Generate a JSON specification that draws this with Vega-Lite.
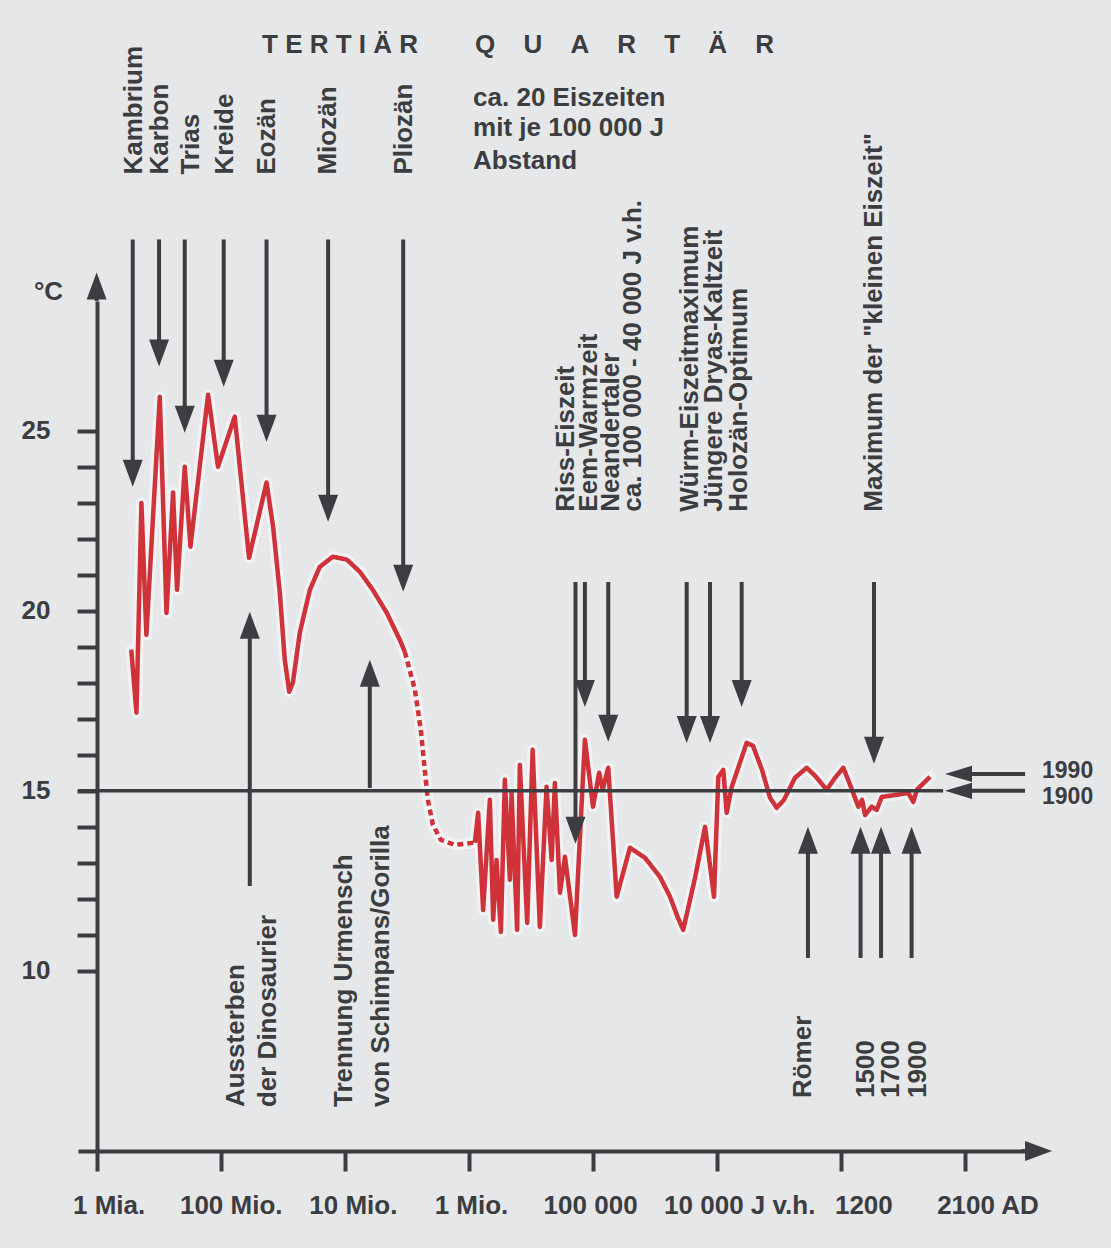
{
  "$schema": "https://vega.github.io/schema/vega-lite/v6.json",
  "width": 952,
  "height": 850,
  "autosize": {"type": "none"},
  "padding": {"left": 78, "top": 301, "right": 81, "bottom": 97},
  "background": "#e6e7e9",
  "config": {"view": {"stroke": null}, "font": "Liberation Sans"},
  "datasets": {
    "curve": [
      {"i": 0, "t": 0.279, "v": 18.92, "seg": "a", "style": "solid"},
      {"i": 1, "t": 0.321, "v": 17.17, "seg": "a", "style": "solid"},
      {"i": 2, "t": 0.361, "v": 22.99, "seg": "a", "style": "solid"},
      {"i": 3, "t": 0.401, "v": 19.33, "seg": "a", "style": "solid"},
      {"i": 4, "t": 0.509, "v": 25.94, "seg": "a", "style": "solid"},
      {"i": 5, "t": 0.563, "v": 19.94, "seg": "a", "style": "solid"},
      {"i": 6, "t": 0.616, "v": 23.28, "seg": "a", "style": "solid"},
      {"i": 7, "t": 0.648, "v": 20.58, "seg": "a", "style": "solid"},
      {"i": 8, "t": 0.710, "v": 24.0, "seg": "a", "style": "solid"},
      {"i": 9, "t": 0.756, "v": 21.78, "seg": "a", "style": "solid"},
      {"i": 10, "t": 0.898, "v": 26.0, "seg": "a", "style": "solid"},
      {"i": 11, "t": 0.978, "v": 24.0, "seg": "a", "style": "solid"},
      {"i": 12, "t": 1.113, "v": 25.39, "seg": "a", "style": "solid"},
      {"i": 13, "t": 1.228, "v": 21.47, "seg": "a", "style": "solid"},
      {"i": 14, "t": 1.369, "v": 23.56, "seg": "a", "style": "solid"},
      {"i": 15, "t": 1.422, "v": 22.33, "seg": "a", "style": "solid"},
      {"i": 16, "t": 1.476, "v": 20.5, "seg": "a", "style": "solid"},
      {"i": 17, "t": 1.516, "v": 18.64, "seg": "a", "style": "solid"},
      {"i": 18, "t": 1.552, "v": 17.75, "seg": "a", "style": "solid"},
      {"i": 19, "t": 1.581, "v": 18.0, "seg": "a", "style": "solid"},
      {"i": 20, "t": 1.637, "v": 19.39, "seg": "a", "style": "solid"},
      {"i": 21, "t": 1.718, "v": 20.58, "seg": "a", "style": "solid"},
      {"i": 22, "t": 1.798, "v": 21.22, "seg": "a", "style": "solid"},
      {"i": 23, "t": 1.903, "v": 21.5, "seg": "a", "style": "solid"},
      {"i": 24, "t": 2.016, "v": 21.42, "seg": "a", "style": "solid"},
      {"i": 25, "t": 2.121, "v": 21.08, "seg": "a", "style": "solid"},
      {"i": 26, "t": 2.225, "v": 20.58, "seg": "a", "style": "solid"},
      {"i": 27, "t": 2.338, "v": 19.94, "seg": "a", "style": "solid"},
      {"i": 28, "t": 2.443, "v": 19.19, "seg": "a", "style": "solid"},
      {"i": 29, "t": 2.483, "v": 18.86, "seg": "a", "style": "solid"},
      {"i": 30, "t": 2.483, "v": 18.86, "seg": "b", "style": "dashed"},
      {"i": 31, "t": 2.564, "v": 17.81, "seg": "b", "style": "dashed"},
      {"i": 32, "t": 2.612, "v": 16.69, "seg": "b", "style": "dashed"},
      {"i": 33, "t": 2.644, "v": 15.58, "seg": "b", "style": "dashed"},
      {"i": 34, "t": 2.669, "v": 14.75, "seg": "b", "style": "dashed"},
      {"i": 35, "t": 2.709, "v": 14.06, "seg": "b", "style": "dashed"},
      {"i": 36, "t": 2.773, "v": 13.64, "seg": "b", "style": "dashed"},
      {"i": 37, "t": 2.886, "v": 13.5, "seg": "b", "style": "dashed"},
      {"i": 38, "t": 3.047, "v": 13.56, "seg": "b", "style": "dashed"},
      {"i": 39, "t": 3.047, "v": 13.56, "seg": "c", "style": "solid"},
      {"i": 40, "t": 3.074, "v": 14.39, "seg": "c", "style": "solid"},
      {"i": 41, "t": 3.114, "v": 11.69, "seg": "c", "style": "solid"},
      {"i": 42, "t": 3.168, "v": 14.75, "seg": "c", "style": "solid"},
      {"i": 43, "t": 3.195, "v": 11.42, "seg": "c", "style": "solid"},
      {"i": 44, "t": 3.222, "v": 13.08, "seg": "c", "style": "solid"},
      {"i": 45, "t": 3.257, "v": 11.08, "seg": "c", "style": "solid"},
      {"i": 46, "t": 3.289, "v": 15.31, "seg": "c", "style": "solid"},
      {"i": 47, "t": 3.330, "v": 12.53, "seg": "c", "style": "solid"},
      {"i": 48, "t": 3.343, "v": 14.94, "seg": "c", "style": "solid"},
      {"i": 49, "t": 3.388, "v": 11.14, "seg": "c", "style": "solid"},
      {"i": 50, "t": 3.410, "v": 15.72, "seg": "c", "style": "solid"},
      {"i": 51, "t": 3.469, "v": 11.33, "seg": "c", "style": "solid"},
      {"i": 52, "t": 3.513, "v": 16.14, "seg": "c", "style": "solid"},
      {"i": 53, "t": 3.571, "v": 11.22, "seg": "c", "style": "solid"},
      {"i": 54, "t": 3.625, "v": 15.11, "seg": "c", "style": "solid"},
      {"i": 55, "t": 3.666, "v": 13.08, "seg": "c", "style": "solid"},
      {"i": 56, "t": 3.692, "v": 15.22, "seg": "c", "style": "solid"},
      {"i": 57, "t": 3.733, "v": 12.17, "seg": "c", "style": "solid"},
      {"i": 58, "t": 3.773, "v": 13.17, "seg": "c", "style": "solid"},
      {"i": 59, "t": 3.854, "v": 11.0, "seg": "c", "style": "solid"},
      {"i": 60, "t": 3.934, "v": 16.42, "seg": "c", "style": "solid"},
      {"i": 61, "t": 3.999, "v": 14.56, "seg": "c", "style": "solid"},
      {"i": 62, "t": 4.049, "v": 15.5, "seg": "c", "style": "solid"},
      {"i": 63, "t": 4.077, "v": 15.03, "seg": "c", "style": "solid"},
      {"i": 64, "t": 4.122, "v": 15.64, "seg": "c", "style": "solid"},
      {"i": 65, "t": 4.190, "v": 12.06, "seg": "c", "style": "solid"},
      {"i": 66, "t": 4.297, "v": 13.42, "seg": "c", "style": "solid"},
      {"i": 67, "t": 4.418, "v": 13.14, "seg": "c", "style": "solid"},
      {"i": 68, "t": 4.539, "v": 12.61, "seg": "c", "style": "solid"},
      {"i": 69, "t": 4.620, "v": 12.06, "seg": "c", "style": "solid"},
      {"i": 70, "t": 4.684, "v": 11.47, "seg": "c", "style": "solid"},
      {"i": 71, "t": 4.726, "v": 11.14, "seg": "c", "style": "solid"},
      {"i": 72, "t": 4.821, "v": 12.58, "seg": "c", "style": "solid"},
      {"i": 73, "t": 4.902, "v": 14.0, "seg": "c", "style": "solid"},
      {"i": 74, "t": 4.974, "v": 12.06, "seg": "c", "style": "solid"},
      {"i": 75, "t": 5.009, "v": 15.39, "seg": "c", "style": "solid"},
      {"i": 76, "t": 5.049, "v": 15.58, "seg": "c", "style": "solid"},
      {"i": 77, "t": 5.076, "v": 14.39, "seg": "c", "style": "solid"},
      {"i": 78, "t": 5.117, "v": 15.11, "seg": "c", "style": "solid"},
      {"i": 79, "t": 5.237, "v": 16.33, "seg": "c", "style": "solid"},
      {"i": 80, "t": 5.288, "v": 16.25, "seg": "c", "style": "solid"},
      {"i": 81, "t": 5.361, "v": 15.58, "seg": "c", "style": "solid"},
      {"i": 82, "t": 5.425, "v": 14.81, "seg": "c", "style": "solid"},
      {"i": 83, "t": 5.479, "v": 14.53, "seg": "c", "style": "solid"},
      {"i": 84, "t": 5.538, "v": 14.75, "seg": "c", "style": "solid"},
      {"i": 85, "t": 5.626, "v": 15.36, "seg": "c", "style": "solid"},
      {"i": 86, "t": 5.721, "v": 15.64, "seg": "c", "style": "solid"},
      {"i": 87, "t": 5.788, "v": 15.42, "seg": "c", "style": "solid"},
      {"i": 88, "t": 5.882, "v": 15.03, "seg": "c", "style": "solid"},
      {"i": 89, "t": 5.949, "v": 15.36, "seg": "c", "style": "solid"},
      {"i": 90, "t": 6.016, "v": 15.64, "seg": "c", "style": "solid"},
      {"i": 91, "t": 6.070, "v": 15.17, "seg": "c", "style": "solid"},
      {"i": 92, "t": 6.137, "v": 14.56, "seg": "c", "style": "solid"},
      {"i": 93, "t": 6.167, "v": 14.75, "seg": "c", "style": "solid"},
      {"i": 94, "t": 6.191, "v": 14.33, "seg": "c", "style": "solid"},
      {"i": 95, "t": 6.245, "v": 14.56, "seg": "c", "style": "solid"},
      {"i": 96, "t": 6.285, "v": 14.47, "seg": "c", "style": "solid"},
      {"i": 97, "t": 6.325, "v": 14.83, "seg": "c", "style": "solid"},
      {"i": 98, "t": 6.446, "v": 14.89, "seg": "c", "style": "solid"},
      {"i": 99, "t": 6.540, "v": 14.94, "seg": "c", "style": "solid"},
      {"i": 100, "t": 6.580, "v": 14.69, "seg": "c", "style": "solid"},
      {"i": 101, "t": 6.608, "v": 15.03, "seg": "c", "style": "solid"},
      {"i": 102, "t": 6.715, "v": 15.39, "seg": "c", "style": "solid"}
    ],
    "varrows": [
      {"t": 0.291, "from": 30.31, "base": 23.94, "tip": 23.44, "dir": "down"},
      {"t": 0.503, "from": 30.31, "base": 27.28, "tip": 26.78, "dir": "down"},
      {"t": 0.710, "from": 30.31, "base": 25.44, "tip": 24.94, "dir": "down"},
      {"t": 1.024, "from": 30.31, "base": 26.72, "tip": 26.22, "dir": "down"},
      {"t": 1.369, "from": 30.31, "base": 25.19, "tip": 24.69, "dir": "down"},
      {"t": 1.865, "from": 30.31, "base": 22.97, "tip": 22.47, "dir": "down"},
      {"t": 2.470, "from": 30.31, "base": 21.03, "tip": 20.53, "dir": "down"},
      {"t": 1.234, "from": 12.36, "base": 19.47, "tip": 19.97, "dir": "up"},
      {"t": 2.201, "from": 15.08, "base": 18.14, "tip": 18.64, "dir": "up"},
      {"t": 3.858, "from": 20.8, "base": 14.03, "tip": 13.53, "dir": "down"},
      {"t": 3.934, "from": 20.8, "base": 17.83, "tip": 17.33, "dir": "down"},
      {"t": 4.122, "from": 20.8, "base": 16.86, "tip": 16.36, "dir": "down"},
      {"t": 4.754, "from": 20.8, "base": 16.83, "tip": 16.33, "dir": "down"},
      {"t": 4.942, "from": 20.8, "base": 16.83, "tip": 16.33, "dir": "down"},
      {"t": 5.197, "from": 20.8, "base": 17.83, "tip": 17.33, "dir": "down"},
      {"t": 6.263, "from": 20.8, "base": 16.25, "tip": 15.75, "dir": "down"},
      {"t": 5.731, "from": 10.36, "base": 13.5, "tip": 14.0, "dir": "up"},
      {"t": 6.155, "from": 10.36, "base": 13.5, "tip": 14.0, "dir": "up"},
      {"t": 6.320, "from": 10.36, "base": 13.5, "tip": 14.0, "dir": "up"},
      {"t": 6.566, "from": 10.36, "base": 13.5, "tip": 14.0, "dir": "up"},
      {"t": 0, "from": 28.6, "base": 28.89, "tip": 29.39, "dir": "up"}
    ],
    "harrows": [
      {"v": 15.47, "from": 7.48, "base": 6.99, "tip": 6.835, "dir": "left"},
      {"v": 15.0, "from": 7.48, "base": 6.99, "tip": 6.835, "dir": "left"},
      {"v": 5, "from": 7.45, "base": 7.55, "tip": 7.698, "dir": "right"}
    ],
    "refline": [
      {"v": 15, "from": -0.15, "to": 6.82}
    ],
    "vlabels": [
      {"t": 0.301, "v": 32.11, "label": "Kambrium"},
      {"t": 0.511, "v": 32.11, "label": "Karbon"},
      {"t": 0.761, "v": 32.11, "label": "Trias"},
      {"t": 1.034, "v": 32.11, "label": "Kreide"},
      {"t": 1.373, "v": 32.11, "label": "Eozän"},
      {"t": 1.864, "v": 32.11, "label": "Miozän"},
      {"t": 2.477, "v": 32.11, "label": "Pliozän"},
      {"t": 3.782, "v": 22.75, "label": "Riss-Eiszeit"},
      {"t": 3.967, "v": 22.75, "label": "Eem-Warmzeit"},
      {"t": 4.145, "v": 22.75, "label": "Neandertaler"},
      {"t": 4.321, "v": 22.75, "label": "ca. 100 000 - 40 000 J v.h."},
      {"t": 4.781, "v": 22.75, "label": "Würm-Eiszeitmaximum"},
      {"t": 4.974, "v": 22.75, "label": "Jüngere Dryas-Kaltzeit"},
      {"t": 5.176, "v": 22.75, "label": "Holozän-Optimum"},
      {"t": 6.263, "v": 22.75, "label": "Maximum der \"kleinen Eiszeit\""},
      {"t": 1.123, "v": 6.22, "label": "Aussterben"},
      {"t": 1.381, "v": 6.22, "label": "der Dinosaurier"},
      {"t": 1.993, "v": 6.22, "label": "Trennung Urmensch"},
      {"t": 2.291, "v": 6.22, "label": "von Schimpans/Gorilla"},
      {"t": 5.691, "v": 6.47, "label": "Römer"},
      {"t": 6.199, "v": 6.47, "label": "1500"},
      {"t": 6.400, "v": 6.47, "label": "1700"},
      {"t": 6.618, "v": 6.47, "label": "1900"}
    ],
    "hlabels": [
      {"t": 1.333, "v": 35.72, "label": "T E R T I Ä R"},
      {"t": 3.049, "v": 35.72, "label": "Q\u2003\u200aU\u2003\u200aA\u2003\u200aR\u2003\u200aT\u2003\u200aÄ\u2003\u200aR"},
      {"t": 3.033, "v": 34.25, "label": "ca. 20 Eiszeiten"},
      {"t": 3.033, "v": 33.39, "label": "mit je 100 000 J"},
      {"t": 3.033, "v": 32.5, "label": "Abstand"}
    ],
    "yearlabels": [
      {"t": 7.617, "v": 15.55, "label": "1990"},
      {"t": 7.617, "v": 14.83, "label": "1900"}
    ]
  },
  "layer": [
    {
      "data": {"name": "curve"},
      "mark": {"type": "line", "color": "#ffffff", "opacity": 0.45, "strokeWidth": 11, "strokeJoin": "round", "strokeCap": "round"},
      "encoding": {
        "x": {
          "field": "t", "type": "quantitative",
          "scale": {"domain": [-0.15, 7.52], "nice": false, "zero": false},
          "axis": {
            "values": [0, 1, 2, 3, 4, 5, 6, 7],
            "title": null, "grid": false,
            "domainColor": "#3b3d41", "domainWidth": 4,
            "tickColor": "#3b3d41", "tickWidth": 4, "tickSize": 20,
            "labelExpr": "['1 Mia.','100 Mio.','10 Mio.','1 Mio.','100 000','10 000 J v.h.','1200','2100 AD'][datum.value]",
            "labelFont": "Liberation Sans", "labelFontSize": 26, "labelFontWeight": "bold",
            "labelColor": "#3b3d41", "labelPadding": 21, "labelAlign": "center",
            "labelOverlap": false, "labelBound": false, "labelFlush": false,
            "labelOffset": {"condition": [
              {"test": "datum.value == 0", "value": 12},
              {"test": "datum.value == 1", "value": 10},
              {"test": "datum.value == 2", "value": 8},
              {"test": "datum.value == 3", "value": 2},
              {"test": "datum.value == 4", "value": -3}
            ], "value": 22}
          }
        },
        "y": {
          "field": "v", "type": "quantitative",
          "scale": {"domain": [5, 28.6], "nice": false, "zero": false},
          "axis": {
            "values": [10, 11, 12, 13, 14, 15, 16, 17, 18, 19, 20, 21, 22, 23, 24, 25],
            "offset": -19, "grid": false,
            "domainColor": "#3b3d41", "domainWidth": 4,
            "tickColor": "#3b3d41", "tickWidth": 4, "tickSize": 20,
            "labelExpr": "datum.value % 5 == 0 ? datum.label : ''",
            "labelFont": "Liberation Sans", "labelFontSize": 26, "labelFontWeight": "bold",
            "labelColor": "#3b3d41", "labelPadding": 27,
            "title": "°C", "titleAngle": 0, "titleX": -49, "titleY": -10,
            "titleAlign": "center", "titleBaseline": "middle",
            "titleFont": "Liberation Sans", "titleFontSize": 26, "titleFontWeight": "bold",
            "titleColor": "#3b3d41"
          }
        },
        "detail": {"field": "seg"},
        "order": {"field": "i", "type": "quantitative"}
      }
    },
    {
      "data": {"name": "curve"},
      "mark": {"type": "line", "color": "#d0323a", "strokeWidth": 4.5, "strokeJoin": "round"},
      "encoding": {
        "x": {"field": "t", "type": "quantitative", "scale": {"domain": [-0.15, 7.52], "nice": false, "zero": false}},
        "y": {"field": "v", "type": "quantitative", "scale": {"domain": [5, 28.6], "nice": false, "zero": false}},
        "detail": {"field": "seg"},
        "strokeDash": {"field": "style", "type": "nominal", "scale": {"domain": ["solid", "dashed"], "range": [[1, 0], [6, 4]]}, "legend": null},
        "order": {"field": "i", "type": "quantitative"}
      }
    },
    {
      "data": {"name": "refline"},
      "mark": {"type": "rule", "color": "#3b3d41", "strokeWidth": 3.5},
      "encoding": {
        "x": {"field": "from", "type": "quantitative", "scale": {"domain": [-0.15, 7.52], "nice": false, "zero": false}},
        "x2": {"field": "to"},
        "y": {"field": "v", "type": "quantitative", "scale": {"domain": [5, 28.6], "nice": false, "zero": false}}
      }
    },
    {
      "data": {"name": "varrows"},
      "mark": {"type": "rule", "color": "#3b3d41", "strokeWidth": 4},
      "encoding": {
        "x": {"field": "t", "type": "quantitative", "scale": {"domain": [-0.15, 7.52], "nice": false, "zero": false}},
        "y": {"field": "from", "type": "quantitative", "scale": {"domain": [5, 28.6], "nice": false, "zero": false}},
        "y2": {"field": "base"}
      }
    },
    {
      "data": {"name": "varrows"},
      "mark": {"type": "point", "filled": true, "color": "#3b3d41", "opacity": 1, "size": 729, "strokeWidth": 0},
      "encoding": {
        "x": {"field": "t", "type": "quantitative", "scale": {"domain": [-0.15, 7.52], "nice": false, "zero": false}},
        "y": {"field": "tip", "type": "quantitative", "scale": {"domain": [5, 28.6], "nice": false, "zero": false}},
        "shape": {"field": "dir", "type": "nominal", "scale": {"domain": ["down", "up", "left", "right"], "range": ["M-0.74,-2L0,0L0.74,-2Z", "M-0.74,2L0,0L0.74,2Z", "M2,-0.6L0,0L2,0.6Z", "M-2,-0.74L0,0L-2,0.74Z"]}, "legend": null}
      }
    },
    {
      "data": {"name": "harrows"},
      "mark": {"type": "rule", "color": "#3b3d41", "strokeWidth": 4},
      "encoding": {
        "x": {"field": "from", "type": "quantitative", "scale": {"domain": [-0.15, 7.52], "nice": false, "zero": false}},
        "x2": {"field": "base"},
        "y": {"field": "v", "type": "quantitative", "scale": {"domain": [5, 28.6], "nice": false, "zero": false}}
      }
    },
    {
      "data": {"name": "harrows"},
      "mark": {"type": "point", "filled": true, "color": "#3b3d41", "opacity": 1, "size": 729, "strokeWidth": 0},
      "encoding": {
        "x": {"field": "tip", "type": "quantitative", "scale": {"domain": [-0.15, 7.52], "nice": false, "zero": false}},
        "y": {"field": "v", "type": "quantitative", "scale": {"domain": [5, 28.6], "nice": false, "zero": false}},
        "shape": {"field": "dir", "type": "nominal", "scale": {"domain": ["down", "up", "left", "right"], "range": ["M-0.74,-2L0,0L0.74,-2Z", "M-0.74,2L0,0L0.74,2Z", "M2,-0.6L0,0L2,0.6Z", "M-2,-0.74L0,0L-2,0.74Z"]}, "legend": null}
      }
    },
    {
      "data": {"name": "vlabels"},
      "mark": {"type": "text", "angle": 270, "align": "left", "baseline": "middle", "font": "Liberation Sans", "fontSize": 26, "fontWeight": "bold", "color": "#3b3d41"},
      "encoding": {
        "x": {"field": "t", "type": "quantitative", "scale": {"domain": [-0.15, 7.52], "nice": false, "zero": false}},
        "y": {"field": "v", "type": "quantitative", "scale": {"domain": [5, 28.6], "nice": false, "zero": false}},
        "text": {"field": "label"}
      }
    },
    {
      "data": {"name": "hlabels"},
      "mark": {"type": "text", "align": "left", "baseline": "middle", "font": "Liberation Sans", "fontSize": 26, "fontWeight": "bold", "color": "#3b3d41"},
      "encoding": {
        "x": {"field": "t", "type": "quantitative", "scale": {"domain": [-0.15, 7.52], "nice": false, "zero": false}},
        "y": {"field": "v", "type": "quantitative", "scale": {"domain": [5, 28.6], "nice": false, "zero": false}},
        "text": {"field": "label"}
      }
    },
    {
      "data": {"name": "yearlabels"},
      "mark": {"type": "text", "align": "left", "baseline": "middle", "font": "Liberation Sans", "fontSize": 23, "fontWeight": "bold", "color": "#3b3d41"},
      "encoding": {
        "x": {"field": "t", "type": "quantitative", "scale": {"domain": [-0.15, 7.52], "nice": false, "zero": false}},
        "y": {"field": "v", "type": "quantitative", "scale": {"domain": [5, 28.6], "nice": false, "zero": false}},
        "text": {"field": "label"}
      }
    }
  ]
}
